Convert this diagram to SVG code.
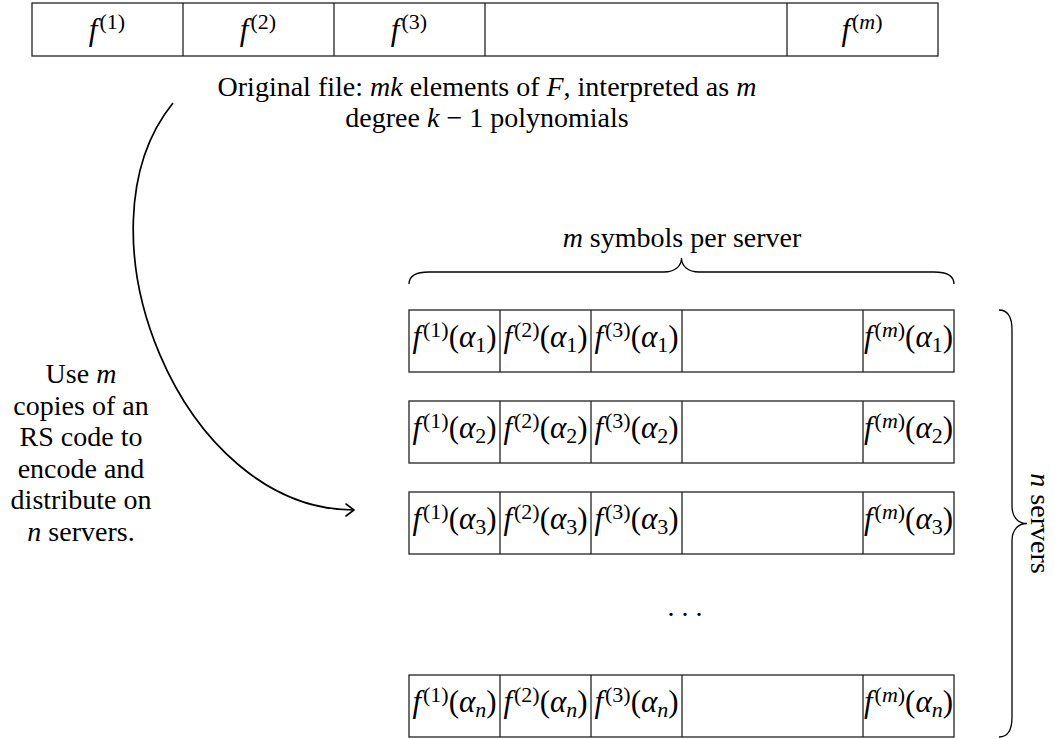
<svg xmlns="http://www.w3.org/2000/svg" width="1055" height="739" viewBox="0 0 1055 739">
<defs>
<marker id="arr" markerUnits="userSpaceOnUse" markerWidth="20" markerHeight="20" viewBox="-10 -10 20 20" refX="0" refY="0" orient="auto">
<path d="M-8,-6 Q-2,-1.5 0,0 Q-2,1.5 -8,6" fill="none" stroke="#000" stroke-width="1.6" stroke-linecap="round"/>
</marker>
</defs>
<rect width="1055" height="739" fill="#fff"/>

<g id="original-file">
<g fill="#fff" stroke="#222" stroke-width="1.3">
<rect x="32" y="3" width="906" height="53"/>
<line x1="183" y1="3" x2="183" y2="56"/>
<line x1="334" y1="3" x2="334" y2="56"/>
<line x1="485" y1="3" x2="485" y2="56"/>
<line x1="787" y1="3" x2="787" y2="56"/>
</g>
<g font-family="Liberation Serif" font-size="31" text-anchor="middle" fill="#000">
<text x="107" y="40"><tspan font-style="italic">f</tspan><tspan font-size="22" dx="2" baseline-shift="11">(1)</tspan></text>
<text x="258" y="40"><tspan font-style="italic">f</tspan><tspan font-size="22" dx="2" baseline-shift="11">(2)</tspan></text>
<text x="409" y="40"><tspan font-style="italic">f</tspan><tspan font-size="22" dx="2" baseline-shift="11">(3)</tspan></text>
<text x="862" y="40"><tspan font-style="italic">f</tspan><tspan font-size="22" dx="2" baseline-shift="11">(<tspan font-style="italic">m</tspan>)</tspan></text>
</g>
</g>

<g id="caption" font-family="Liberation Serif" font-size="28" text-anchor="middle" fill="#000">
<text x="487" y="96">Original file: <tspan font-style="italic">mk</tspan> elements of <tspan font-style="italic">F</tspan>, interpreted as <tspan font-style="italic">m</tspan></text>
<text x="487" y="127">degree <tspan font-style="italic">k</tspan> &#8722; 1 polynomials</text>
</g>

<g id="encode-label" font-family="Liberation Serif" font-size="28" text-anchor="middle" fill="#000">
<text x="81" y="383">Use <tspan font-style="italic">m</tspan></text>
<text x="81" y="414.5">copies of an</text>
<text x="81" y="446">RS code to</text>
<text x="81" y="477.5">encode and</text>
<text x="81" y="509">distribute on</text>
<text x="81" y="540.5"><tspan font-style="italic">n</tspan> servers.</text>
</g>

<g id="symbols-brace">
<path fill="none" stroke="#000" stroke-width="1.3" d="M409,284 C409,276 415,272 429,272 L664,272 C675,272 681.5,266 681.5,258 C681.5,266 688,272 699,272 L934,272 C948,272 954,276 954,284"/>
<text font-family="Liberation Serif" font-size="28" text-anchor="middle" x="682" y="247"><tspan font-style="italic">m</tspan> symbols per server</text>
</g>

<g id="servers-brace">
<path fill="none" stroke="#000" stroke-width="1.3" d="M999,310 C1007,310 1012,316 1012,330 L1012,506 C1012,517 1018,523.5 1027,523.5 C1018,523.5 1012,530 1012,541 L1012,717 C1012,731 1007,737 999,737"/>
<text font-family="Liberation Serif" font-size="28" text-anchor="middle" transform="translate(1031,523.5) rotate(90)"><tspan font-style="italic">n</tspan> servers</text>
</g>

<g id="server-1">
<g fill="#fff" stroke="#222" stroke-width="1.3">
<rect x="409" y="310" width="545" height="62"/>
<line x1="500" y1="310" x2="500" y2="372"/>
<line x1="591" y1="310" x2="591" y2="372"/>
<line x1="682" y1="310" x2="682" y2="372"/>
<line x1="863" y1="310" x2="863" y2="372"/>
</g>
<g font-family="Liberation Serif" font-size="31" text-anchor="middle" fill="#000">
<text x="454.5" y="347"><tspan font-style="italic">f</tspan><tspan font-size="22" dx="2" baseline-shift="10">(1)</tspan>(<tspan font-style="italic">&#945;</tspan><tspan font-size="22" baseline-shift="-5">1</tspan>)</text>
<text x="545.5" y="347"><tspan font-style="italic">f</tspan><tspan font-size="22" dx="2" baseline-shift="10">(2)</tspan>(<tspan font-style="italic">&#945;</tspan><tspan font-size="22" baseline-shift="-5">1</tspan>)</text>
<text x="636.5" y="347"><tspan font-style="italic">f</tspan><tspan font-size="22" dx="2" baseline-shift="10">(3)</tspan>(<tspan font-style="italic">&#945;</tspan><tspan font-size="22" baseline-shift="-5">1</tspan>)</text>
<text x="908.5" y="347"><tspan font-style="italic">f</tspan><tspan font-size="22" dx="2" baseline-shift="10">(<tspan font-style="italic">m</tspan>)</tspan>(<tspan font-style="italic">&#945;</tspan><tspan font-size="22" baseline-shift="-5">1</tspan>)</text>
</g>
</g>

<g id="server-2">
<g fill="#fff" stroke="#222" stroke-width="1.3">
<rect x="409" y="401" width="545" height="62"/>
<line x1="500" y1="401" x2="500" y2="463"/>
<line x1="591" y1="401" x2="591" y2="463"/>
<line x1="682" y1="401" x2="682" y2="463"/>
<line x1="863" y1="401" x2="863" y2="463"/>
</g>
<g font-family="Liberation Serif" font-size="31" text-anchor="middle" fill="#000">
<text x="454.5" y="438"><tspan font-style="italic">f</tspan><tspan font-size="22" dx="2" baseline-shift="10">(1)</tspan>(<tspan font-style="italic">&#945;</tspan><tspan font-size="22" baseline-shift="-5">2</tspan>)</text>
<text x="545.5" y="438"><tspan font-style="italic">f</tspan><tspan font-size="22" dx="2" baseline-shift="10">(2)</tspan>(<tspan font-style="italic">&#945;</tspan><tspan font-size="22" baseline-shift="-5">2</tspan>)</text>
<text x="636.5" y="438"><tspan font-style="italic">f</tspan><tspan font-size="22" dx="2" baseline-shift="10">(3)</tspan>(<tspan font-style="italic">&#945;</tspan><tspan font-size="22" baseline-shift="-5">2</tspan>)</text>
<text x="908.5" y="438"><tspan font-style="italic">f</tspan><tspan font-size="22" dx="2" baseline-shift="10">(<tspan font-style="italic">m</tspan>)</tspan>(<tspan font-style="italic">&#945;</tspan><tspan font-size="22" baseline-shift="-5">2</tspan>)</text>
</g>
</g>

<g id="server-3">
<g fill="#fff" stroke="#222" stroke-width="1.3">
<rect x="409" y="492" width="545" height="62"/>
<line x1="500" y1="492" x2="500" y2="554"/>
<line x1="591" y1="492" x2="591" y2="554"/>
<line x1="682" y1="492" x2="682" y2="554"/>
<line x1="863" y1="492" x2="863" y2="554"/>
</g>
<g font-family="Liberation Serif" font-size="31" text-anchor="middle" fill="#000">
<text x="454.5" y="529"><tspan font-style="italic">f</tspan><tspan font-size="22" dx="2" baseline-shift="10">(1)</tspan>(<tspan font-style="italic">&#945;</tspan><tspan font-size="22" baseline-shift="-5">3</tspan>)</text>
<text x="545.5" y="529"><tspan font-style="italic">f</tspan><tspan font-size="22" dx="2" baseline-shift="10">(2)</tspan>(<tspan font-style="italic">&#945;</tspan><tspan font-size="22" baseline-shift="-5">3</tspan>)</text>
<text x="636.5" y="529"><tspan font-style="italic">f</tspan><tspan font-size="22" dx="2" baseline-shift="10">(3)</tspan>(<tspan font-style="italic">&#945;</tspan><tspan font-size="22" baseline-shift="-5">3</tspan>)</text>
<text x="908.5" y="529"><tspan font-style="italic">f</tspan><tspan font-size="22" dx="2" baseline-shift="10">(<tspan font-style="italic">m</tspan>)</tspan>(<tspan font-style="italic">&#945;</tspan><tspan font-size="22" baseline-shift="-5">3</tspan>)</text>
</g>
</g>

<g id="ellipsis">
<text font-family="Liberation Serif" font-size="28" text-anchor="middle" x="685" y="616">. . .</text>
</g>

<g id="server-n">
<g fill="#fff" stroke="#222" stroke-width="1.3">
<rect x="409" y="675" width="545" height="62"/>
<line x1="500" y1="675" x2="500" y2="737"/>
<line x1="591" y1="675" x2="591" y2="737"/>
<line x1="682" y1="675" x2="682" y2="737"/>
<line x1="863" y1="675" x2="863" y2="737"/>
</g>
<g font-family="Liberation Serif" font-size="31" text-anchor="middle" fill="#000">
<text x="454.5" y="712"><tspan font-style="italic">f</tspan><tspan font-size="22" dx="2" baseline-shift="10">(1)</tspan>(<tspan font-style="italic">&#945;</tspan><tspan font-size="22" font-style="italic" baseline-shift="-5">n</tspan>)</text>
<text x="545.5" y="712"><tspan font-style="italic">f</tspan><tspan font-size="22" dx="2" baseline-shift="10">(2)</tspan>(<tspan font-style="italic">&#945;</tspan><tspan font-size="22" font-style="italic" baseline-shift="-5">n</tspan>)</text>
<text x="636.5" y="712"><tspan font-style="italic">f</tspan><tspan font-size="22" dx="2" baseline-shift="10">(3)</tspan>(<tspan font-style="italic">&#945;</tspan><tspan font-size="22" font-style="italic" baseline-shift="-5">n</tspan>)</text>
<text x="908.5" y="712"><tspan font-style="italic">f</tspan><tspan font-size="22" dx="2" baseline-shift="10">(<tspan font-style="italic">m</tspan>)</tspan>(<tspan font-style="italic">&#945;</tspan><tspan font-size="22" font-style="italic" baseline-shift="-5">n</tspan>)</text>
</g>
</g>

<g id="connectors">
<path fill="none" stroke="#000" stroke-width="1.7" d="M173,103 C70,230 180,510 354,510" marker-end="url(#arr)"/>
</g>
</svg>
